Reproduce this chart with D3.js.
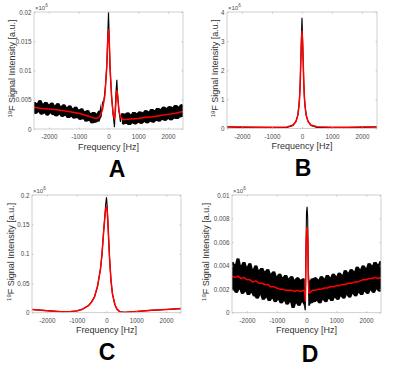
<!DOCTYPE html>
<html>
<head>
<meta charset="utf-8">
<script src="https://cdn.jsdelivr.net/npm/d3@7"></script>
<style>
  body { margin: 0; background: #fff; }
  svg text { font-family: "Liberation Sans", Arial, sans-serif; }
</style>
</head>
<body>
<svg id="fig" width="400" height="379"></svg>
<script>
// ---- data (frequency in Hz, intensity in units of 1e6) ----
var xTicks = [-2000, -1000, 0, 1000, 2000];

// A
var A_yTicks = [0, 0.005, 0.01, 0.015, 0.02];
var A_yLabels = ["0", "0.005", "0.01", "0.015", "0.02"];
var A_redHz = [-2500,-2250,-2000,-1750,-1500,-1250,-1000,-750,-500,-400,-300,-200,-120,-60,-25,0,25,60,110,160,200,230,260,285,310,350,420,500,750,1000,1250,1500,1750,2000,2250,2500];
var A_red   = [0.0037,0.0035,0.0034,0.0033,0.0031,0.0029,0.0027,0.0023,0.0019,0.0018,0.0021,0.0033,0.0058,0.0105,0.0152,0.0170,0.0150,0.0098,0.0050,0.0024,0.0017,0.0030,0.0055,0.0066,0.0054,0.0030,0.0019,0.0016,0.0017,0.0018,0.0020,0.0021,0.0023,0.0025,0.0027,0.0030];
var A_blackHz = [-2500,-2450,-2400,-2350,-2300,-2250,-2200,-2150,-2100,-2050,-2000,-1950,-1900,-1850,-1800,-1750,-1700,-1650,-1600,-1550,-1500,-1450,-1400,-1350,-1300,-1250,-1200,-1150,-1100,-1050,-1000,-950,-900,-850,-800,-750,-700,-650,-600,-550,-500,-450,-400,-350,-300,-250,-200,-150,-100,-50,-25,0,25,50,100,150,200,250,280,300,350,400,450,500,550,600,650,700,750,800,850,900,950,1000,1050,1100,1150,1200,1250,1300,1350,1400,1450,1500,1550,1600,1650,1700,1750,1800,1850,1900,1950,2000,2050,2100,2150,2200,2250,2300,2350,2400,2450,2500];
var A_black   = [0.0046,0.0026,0.0044,0.0029,0.0049,0.0025,0.0043,0.0027,0.0046,0.0023,0.0042,0.0027,0.0045,0.0024,0.0040,0.0022,0.0044,0.0025,0.0039,0.0021,0.0042,0.0023,0.0037,0.0019,0.0040,0.0021,0.0035,0.0018,0.0038,0.0019,0.0033,0.0016,0.0035,0.0017,0.0030,0.0013,0.0032,0.0014,0.0027,0.0010,0.0029,0.0011,0.0026,0.0013,0.0031,0.0020,0.0045,0.0050,0.0075,0.0115,0.0160,0.0200,0.0155,0.0105,0.0058,0.0028,0.0003,0.0062,0.0084,0.0063,0.0032,0.0012,0.0027,0.0008,0.0026,0.0009,0.0028,0.0007,0.0025,0.0010,0.0029,0.0008,0.0027,0.0011,0.0030,0.0009,0.0028,0.0012,0.0032,0.0010,0.0030,0.0013,0.0034,0.0011,0.0032,0.0014,0.0036,0.0013,0.0034,0.0016,0.0038,0.0014,0.0036,0.0017,0.0039,0.0015,0.0037,0.0018,0.0041,0.0017,0.0038,0.0020,0.0042,0.0021];

// B
var B_yTicks = [0, 1, 2, 3, 4];
var B_yLabels = ["0", "1", "2", "3", "4"];
var B_redHz = [-2500,-2000,-1500,-1000,-500,-300,-200,-140,-100,-80,-60,-40,-20,0,20,40,60,80,100,140,200,300,500,1000,1500,2000,2500];
var B_red   = [0.06,0.05,0.04,0.04,0.05,0.12,0.25,0.45,0.78,1.07,1.52,2.29,2.99,3.35,2.99,2.29,1.52,1.07,0.78,0.45,0.25,0.12,0.06,0.04,0.04,0.05,0.06];
var B_blackHz = [-2500,-2000,-1500,-1000,-500,-300,-200,-140,-100,-80,-60,-40,-20,-8,0,8,20,40,60,80,100,140,200,300,500,1000,1500,2000,2500];
var B_black   = [0.05,0.04,0.04,0.03,0.04,0.10,0.24,0.46,0.80,1.10,1.56,2.33,3.05,3.60,3.80,3.55,3.00,2.30,1.55,1.08,0.80,0.46,0.24,0.10,0.04,0.03,0.03,0.04,0.05];

// C
var C_yTicks = [0, 0.05, 0.1, 0.15, 0.2];
var C_yLabels = ["0", "0.05", "0.1", "0.15", "0.2"];
var C_redHz = [-2500,-2000,-1500,-1200,-1000,-800,-600,-500,-400,-300,-200,-150,-100,-50,-20,0,20,50,100,150,200,280,350,450,600,1000,1500,2000,2500];
var C_red   = [0.0055,0.0035,0.0015,0.0020,0.0030,0.0060,0.0120,0.0180,0.0270,0.0450,0.0750,0.1000,0.1350,0.1650,0.1780,0.1800,0.1750,0.1500,0.0950,0.0550,0.0320,0.0140,0.0060,0.0015,0.0005,0.0020,0.0040,0.0055,0.0070];
var C_blackHz = [-2500,-2000,-1500,-1200,-1000,-800,-600,-500,-400,-300,-200,-150,-100,-50,-30,-10,0,10,30,50,100,150,200,280,350,450,600,1000,1500,2000,2500];
var C_black   = [0.0055,0.0035,0.0015,0.0020,0.0030,0.0062,0.0125,0.0185,0.0275,0.0450,0.0750,0.1000,0.1360,0.1680,0.1830,0.1920,0.1960,0.1900,0.1760,0.1500,0.0950,0.0550,0.0320,0.0140,0.0060,0.0015,0.0005,0.0020,0.0040,0.0055,0.0070];

// D
var D_yTicks = [0, 0.002, 0.004, 0.006, 0.008, 0.01];
var D_yLabels = ["0", "0.002", "0.004", "0.006", "0.008", "0.01"];
var D_redHz = [-2500,-2400,-2300,-2200,-2100,-2000,-1900,-1800,-1700,-1600,-1500,-1400,-1300,-1200,-1100,-1000,-900,-800,-700,-600,-500,-400,-300,-200,-100,-60,-40,-25,-10,10,30,45,60,80,120,200,300,400,500,600,700,800,900,1000,1100,1200,1300,1400,1500,1600,1700,1800,1900,2000,2100,2200,2300,2400,2500];
var D_red   = [0.0031,0.0030,0.0031,0.0029,0.0030,0.0028,0.0028,0.0026,0.0027,0.0025,0.0025,0.0024,0.0024,0.0022,0.0022,0.0021,0.0020,0.0020,0.0019,0.0019,0.0019,0.0018,0.0019,0.0018,0.0019,0.0018,0.0010,0.0030,0.0060,0.0072,0.0072,0.0060,0.0030,0.0017,0.0017,0.0019,0.0019,0.0020,0.0020,0.0021,0.0021,0.0022,0.0022,0.0023,0.0023,0.0024,0.0024,0.0025,0.0025,0.0026,0.0026,0.0027,0.0028,0.0028,0.0029,0.0029,0.0030,0.0029,0.0030];
var D_blackHz = [-2500,-2450,-2400,-2350,-2300,-2250,-2200,-2150,-2100,-2050,-2000,-1950,-1900,-1850,-1800,-1750,-1700,-1650,-1600,-1550,-1500,-1450,-1400,-1350,-1300,-1250,-1200,-1150,-1100,-1050,-1000,-950,-900,-850,-800,-750,-700,-650,-600,-550,-500,-450,-400,-350,-300,-250,-200,-150,-100,-60,-40,-20,0,20,40,60,80,100,150,200,250,300,350,400,450,500,550,600,650,700,750,800,850,900,950,1000,1050,1100,1150,1200,1250,1300,1350,1400,1450,1500,1550,1600,1650,1700,1750,1800,1850,1900,1950,2000,2050,2100,2150,2200,2250,2300,2350,2400,2450,2500];
var D_black   = [0.0043,0.0019,0.0041,0.0017,0.0046,0.0020,0.0040,0.0016,0.0043,0.0018,0.0039,0.0015,0.0042,0.0017,0.0037,0.0014,0.0040,0.0012,0.0036,0.0015,0.0038,0.0011,0.0035,0.0013,0.0037,0.0010,0.0033,0.0012,0.0035,0.0009,0.0031,0.0011,0.0033,0.0008,0.0030,0.0010,0.0032,0.0007,0.0029,0.0009,0.0031,0.0004,0.0028,0.0008,0.0030,0.0006,0.0028,0.0009,0.0029,0.0007,0.0002,0.0050,0.0085,0.0090,0.0080,0.0035,0.0006,0.0027,0.0008,0.0029,0.0009,0.0030,0.0010,0.0028,0.0008,0.0031,0.0011,0.0029,0.0009,0.0032,0.0012,0.0030,0.0010,0.0033,0.0013,0.0031,0.0011,0.0034,0.0014,0.0032,0.0012,0.0036,0.0015,0.0034,0.0013,0.0037,0.0016,0.0035,0.0014,0.0039,0.0017,0.0037,0.0015,0.0040,0.0018,0.0038,0.0016,0.0042,0.0019,0.0040,0.0017,0.0043,0.0020,0.0041,0.0018,0.0044];

var svg = d3.select("#fig");

// noise: Hz range around the peaks where the black band is not filled
var panels = [
  {id: "A", x0: 34, x1: 183, y0: 12, y1: 129, yMax: 0.02, yTicks: A_yTicks, yLabels: A_yLabels,
   redHz: A_redHz, red: A_red, blackHz: A_blackHz, black: A_black, noise: [-250, 420], ylabX: 15, letterX: 117, letterY: 177},
  {id: "B", x0: 227, x1: 377, y0: 12, y1: 128.5, yMax: 4, yTicks: B_yTicks, yLabels: B_yLabels,
   redHz: B_redHz, red: B_red, blackHz: B_blackHz, black: B_black, ylabX: 218, letterX: 303, letterY: 176},
  {id: "C", x0: 32, x1: 181, y0: 195, y1: 312.7, yMax: 0.2, yTicks: C_yTicks, yLabels: C_yLabels,
   redHz: C_redHz, red: C_red, blackHz: C_blackHz, black: C_black, ylabX: 14, letterX: 107, letterY: 360},
  {id: "D", x0: 232, x1: 381, y0: 195, y1: 312.7, yMax: 0.01, yTicks: D_yTicks, yLabels: D_yLabels,
   redHz: D_redHz, red: D_red, blackHz: D_blackHz, black: D_black, noise: [-60, 80], ylabX: 209, letterX: 310, letterY: 362}
];

panels.forEach(drawPanel);

function drawPanel(p) {
  var g = svg.append("g");
  var x = d3.scaleLinear().domain([-2500, 2500]).range([p.x0, p.x1]);
  var y = d3.scaleLinear().domain([0, p.yMax]).range([p.y1, p.y0]);
  var line = d3.line()
    .x(function(d) { return x(d.f); })
    .y(function(d) { return y(d.v); });

  g.append("clipPath").attr("id", "clip" + p.id)
    .append("rect")
    .attr("x", p.x0).attr("y", p.y0)
    .attr("width", p.x1 - p.x0).attr("height", p.y1 - p.y0);

  var plot = g.append("g").attr("clip-path", "url(#clip" + p.id + ")");

  var blk = p.blackHz.map(function(f, i) { return {f: f, v: p.black[i]}; });

  // dense noise: fill between neighbouring samples so the band reads solid
  if (p.noise) {
    var env = blk.map(function(d, i) {
      var w = blk.slice(Math.max(0, i - 1), i + 2).map(function(e) { return e.v; });
      return {f: d.f, lo: d3.min(w), hi: d3.max(w), ok: d.f <= p.noise[0] || d.f >= p.noise[1]};
    });
    plot.append("path")
      .datum(env)
      .attr("fill", "#000")
      .attr("d", d3.area()
        .defined(function(d) { return d.ok; })
        .x(function(d) { return x(d.f); })
        .y0(function(d) { return y(d.lo); })
        .y1(function(d) { return y(d.hi); }));
  }

  // measured spectrum (black)
  plot.append("path")
    .datum(blk)
    .attr("fill", "none")
    .attr("stroke", "#000")
    .attr("stroke-width", 1.1)
    .attr("d", line);

  // fit (red)
  var fit = p.redHz.map(function(f, i) { return {f: f, v: p.red[i]}; });
  plot.append("path")
    .datum(fit)
    .attr("fill", "none")
    .attr("stroke", "#ff0000")
    .attr("stroke-width", 1.5)
    .attr("stroke-linejoin", "round")
    .attr("d", line);

  // box
  g.append("rect")
    .attr("x", p.x0).attr("y", p.y0)
    .attr("width", p.x1 - p.x0).attr("height", p.y1 - p.y0)
    .attr("fill", "none").attr("stroke", "#c4c4c4").attr("stroke-width", 0.8);

  function styleAxis(a) {
    a.select(".domain").remove();
    a.selectAll(".tick line").attr("stroke", "#aaa").attr("stroke-width", 0.6);
    a.selectAll(".tick text").attr("fill", "#4a4a4a").style("font-size", "6.3px");
  }

  g.append("g")
    .attr("transform", "translate(0," + p.y1 + ")")
    .call(d3.axisBottom(x).tickValues(xTicks).tickSizeInner(-1.5).tickSizeOuter(0).tickPadding(6)
      .tickFormat(function(d) { return String(d); }))
    .call(styleAxis);
  g.append("g")
    .attr("transform", "translate(0," + p.y0 + ")")
    .call(d3.axisTop(x).tickValues(xTicks).tickSizeInner(-1.5).tickSizeOuter(0).tickFormat(""))
    .call(styleAxis);
  g.append("g")
    .attr("transform", "translate(" + p.x0 + ",0)")
    .call(d3.axisLeft(y).tickValues(p.yTicks).tickSizeInner(-1.5).tickSizeOuter(0).tickPadding(2.5)
      .tickFormat(function(d, i) { return p.yLabels[i]; }))
    .call(styleAxis);
  g.append("g")
    .attr("transform", "translate(" + p.x1 + ",0)")
    .call(d3.axisRight(y).tickValues(p.yTicks).tickSizeInner(-1.5).tickSizeOuter(0).tickFormat(""))
    .call(styleAxis);

  // exponent
  var ex = g.append("text")
    .attr("x", p.x0 + 1).attr("y", p.y0 - 2.5)
    .attr("fill", "#4a4a4a").style("font-size", "6px")
    .text("\u00d710");
  ex.append("tspan").attr("dy", -3).style("font-size", "4.5px").text("6");

  // x label
  g.append("text")
    .attr("x", (p.x0 + p.x1) / 2).attr("y", p.y1 + 20.5)
    .attr("text-anchor", "middle")
    .attr("fill", "#333").style("font-size", "9px")
    .text("Frequency [Hz]");

  // y label
  var yl = g.append("text")
    .attr("transform", "translate(" + p.ylabX + "," + ((p.y0 + p.y1) / 2 - 2) + ") rotate(-90)")
    .attr("text-anchor", "middle")
    .attr("fill", "#333").style("font-size", "9px");
  yl.append("tspan").attr("dy", -3).style("font-size", "6px").text("19");
  yl.append("tspan").attr("dy", 3).text("F Signal Intensity [a.u.]");

  // panel letter
  g.append("text")
    .attr("x", p.letterX).attr("y", p.letterY)
    .attr("text-anchor", "middle")
    .attr("fill", "#000").style("font-size", "23px").style("font-weight", "bold")
    .text(p.id);
}
</script>
</body>
</html>
